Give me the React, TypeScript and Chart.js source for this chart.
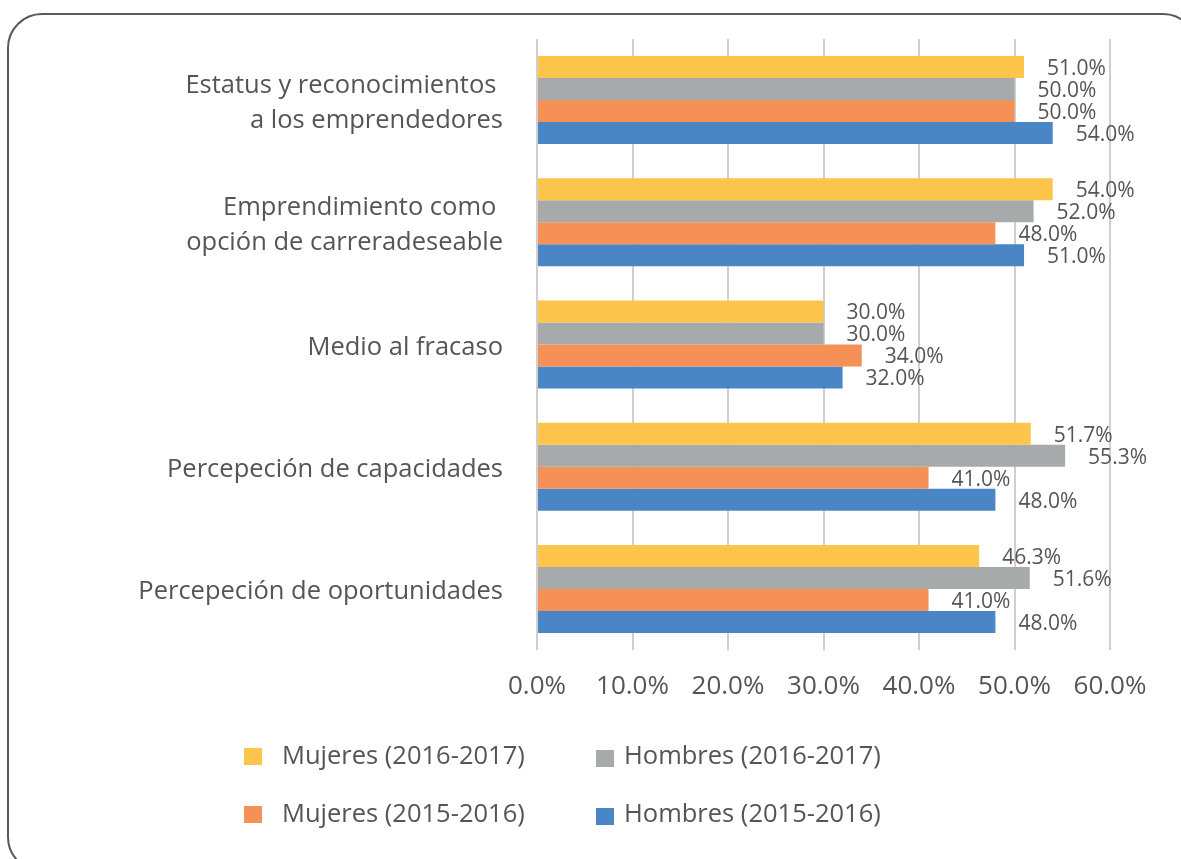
import React, { useEffect, useRef } from 'react';
import { Chart, registerables } from 'chart.js';

Chart.register(...registerables);

const categories: (string | string[])[] = [
  ['Estatus y reconocimientos ', 'a los emprendedores'],
  ['Emprendimiento como ', 'opción de carreradeseable'],
  'Medio al fracaso',
  'Percepeción de capacidades',
  'Percepeción de oportunidades',
];

const seriesNames = [
  'Mujeres (2016-2017)',
  'Hombres (2016-2017)',
  'Mujeres (2015-2016)',
  'Hombres (2015-2016)',
];

const mujeres1617 = [51.0, 54.0, 30.0, 51.7, 46.3];
const hombres1617 = [50.0, 52.0, 30.0, 55.3, 51.6];
const mujeres1516 = [50.0, 48.0, 34.0, 41.0, 41.0];
const hombres1516 = [54.0, 51.0, 32.0, 48.0, 48.0];

const xMin = 0;
const xMax = 60;
const xStep = 10;

const seriesColors = ['#FDC54B', '#A7AAAA', '#F59056', '#4A86C5'];

const FONT = '"Open Sans", "Noto Sans", sans-serif';
const TEXT = '#555555';

const dataLabelPlugin = {
  id: 'dataLabels',
  afterDatasetsDraw(chart: any) {
    const ctx = chart.ctx;
    ctx.save();
    ctx.font = `21px ${FONT}`;
    ctx.fillStyle = TEXT;
    ctx.textAlign = 'left';
    ctx.textBaseline = 'middle';
    chart.data.datasets.forEach((ds: any, di: number) => {
      const meta = chart.getDatasetMeta(di);
      meta.data.forEach((el: any, i: number) => {
        const v = ds.data[i] as number;
        ctx.fillText(v.toFixed(1) + '%', el.x + 23, el.y + 2);
      });
    });
    ctx.restore();
  },
};

const gridLegendPlugin = {
  id: 'gridLegend',
  afterDraw(chart: any) {
    const ctx = chart.ctx;
    const colX = [244, 596];
    const textOff = [38, 28];
    const rowY = [757, 815];
    ctx.save();
    ctx.font = `25.5px ${FONT}`;
    ctx.textBaseline = 'middle';
    ctx.textAlign = 'left';
    chart.data.datasets.forEach((ds: any, i: number) => {
      const c = i % 2;
      const r = Math.floor(i / 2);
      const x = colX[c];
      const y = rowY[r];
      ctx.fillStyle = ds.backgroundColor;
      ctx.fillRect(x, y - 9 + (c === 1 ? 2 : 0), 18, 17);
      ctx.fillStyle = TEXT;
      ctx.fillText(ds.label, x + textOff[c], y);
    });
    ctx.restore();
  },
};

export default function App() {
  const ref = useRef<HTMLCanvasElement | null>(null);

  useEffect(() => {
    if (!ref.current) return;
    document.body.style.overflow = 'hidden';
    const values = [mujeres1617, hombres1617, mujeres1516, hombres1516];
    const chart = new Chart(ref.current, {
      type: 'bar',
      data: {
        labels: categories as any,
        datasets: seriesNames.map((name, i) => ({
          label: name,
          data: values[i],
          backgroundColor: seriesColors[i],
          borderWidth: 0,
          categoryPercentage: 0.72,
          barPercentage: 1.0,
        })),
      },
      options: {
        indexAxis: 'y',
        animation: false,
        responsive: false,
        devicePixelRatio: 1,
        layout: { padding: { left: 0, right: 71, top: 39, bottom: 144 } },
        plugins: {
          legend: { display: false },
          tooltip: { enabled: false },
          title: { display: false },
        },
        scales: {
          x: {
            type: 'linear',
            min: xMin,
            max: xMax,
            afterFit: (s: any) => {
              s.height = 65;
            },
            ticks: {
              stepSize: xStep,
              padding: 21,
              color: TEXT,
              font: { family: FONT, size: 26 },
              callback: (v: any) => Number(v).toFixed(1) + '%',
            },
            grid: {
              color: '#cfcfcf',
              lineWidth: 2,
              drawTicks: false,
            },
            border: { display: false },
          },
          y: {
            afterFit: (s: any) => {
              s.width = 537;
              s.paddingTop = 0;
              s.paddingBottom = 0;
            },
            ticks: {
              padding: 34,
              labelOffset: 3,
              color: TEXT,
              font: { family: FONT, size: 25.5, lineHeight: 1.4 },
            },
            grid: { display: false, drawTicks: false },
            border: { display: false },
          },
        },
      },
      plugins: [dataLabelPlugin, gridLegendPlugin],
    });
    return () => chart.destroy();
  }, []);

  return (
    <>
      <div
        style={{
          position: 'fixed',
          left: 7,
          top: 13,
          width: 1191,
          height: 859,
          border: '2.5px solid #595959',
          borderRadius: 35,
          boxSizing: 'border-box',
          pointerEvents: 'none',
        }}
      />
      <canvas
        ref={ref}
        width={1181}
        height={859}
        style={{ position: 'fixed', left: 0, top: 0, width: 1181, height: 859 }}
      />
    </>
  );
}
